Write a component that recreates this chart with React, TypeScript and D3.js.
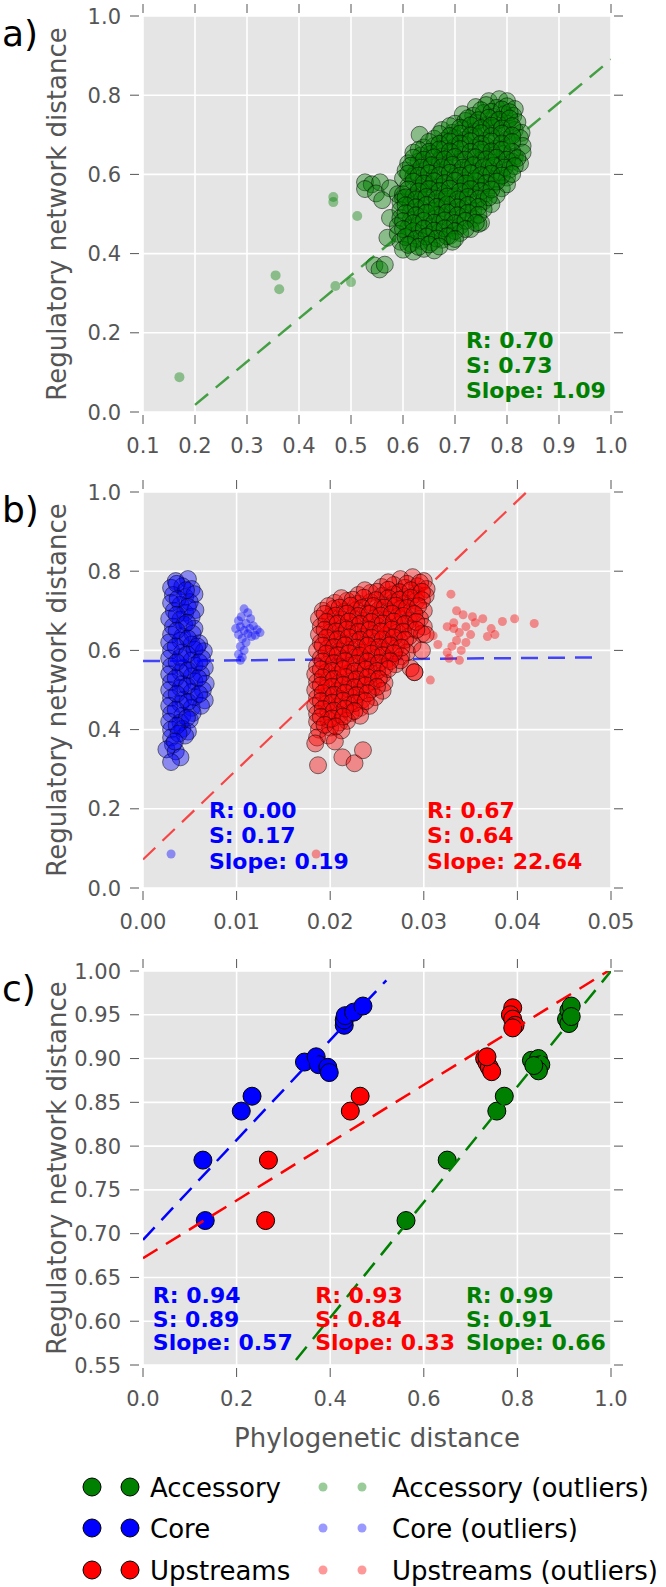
import React from "react";
import * as d3 from "d3";

const GREEN = "#008000";
const BLUE = "#0000ff";
const RED = "#ff0000";
const FONT = "DejaVu Sans";

// ---- panel a: accessory genes ----
const aCore: [number, number][] = [
  [0.765, 0.785], [0.785, 0.79], [0.8, 0.785],
  [0.74, 0.77], [0.76, 0.775], [0.78, 0.768], [0.8, 0.772], [0.815, 0.765],
  [0.715, 0.752], [0.735, 0.748], [0.755, 0.755], [0.775, 0.745], [0.795, 0.752], [0.812, 0.748],
  [0.7, 0.728], [0.72, 0.735], [0.74, 0.73], [0.76, 0.725], [0.78, 0.735], [0.8, 0.728], [0.82, 0.732],
  [0.675, 0.712], [0.695, 0.705], [0.715, 0.715], [0.735, 0.708], [0.755, 0.712], [0.775, 0.718], [0.795, 0.705], [0.815, 0.712], [0.828, 0.705],
  [0.632, 0.7],
  [0.66, 0.69], [0.68, 0.685], [0.7, 0.692], [0.72, 0.688], [0.74, 0.695], [0.76, 0.685], [0.78, 0.69], [0.8, 0.687], [0.825, 0.692],
  [0.64, 0.668], [0.66, 0.672], [0.68, 0.665], [0.7, 0.67], [0.72, 0.675], [0.74, 0.668], [0.76, 0.672], [0.78, 0.665], [0.8, 0.67], [0.83, 0.672],
  [0.62, 0.655], [0.635, 0.648], [0.655, 0.652], [0.675, 0.645], [0.695, 0.655], [0.715, 0.65], [0.735, 0.645], [0.755, 0.655], [0.775, 0.648], [0.795, 0.652], [0.815, 0.645], [0.83, 0.655],
  [0.61, 0.628], [0.63, 0.632], [0.65, 0.625], [0.67, 0.635], [0.69, 0.628], [0.71, 0.632], [0.73, 0.625], [0.75, 0.635], [0.77, 0.63], [0.79, 0.625], [0.81, 0.632], [0.825, 0.628],
  [0.605, 0.61], [0.625, 0.605], [0.645, 0.612], [0.665, 0.608], [0.685, 0.615], [0.705, 0.605], [0.725, 0.612], [0.745, 0.608], [0.765, 0.615], [0.785, 0.605], [0.805, 0.612],
  [0.6, 0.59], [0.62, 0.595], [0.64, 0.585], [0.66, 0.592], [0.68, 0.588], [0.7, 0.595], [0.72, 0.585], [0.74, 0.59], [0.76, 0.595], [0.78, 0.588], [0.8, 0.592],
  [0.527, 0.58], [0.54, 0.575], [0.556, 0.58], [0.527, 0.563], [0.548, 0.552], [0.575, 0.565], [0.59, 0.55], [0.56, 0.535], [0.575, 0.49], [0.57, 0.44], [0.6, 0.54],
  [0.61, 0.57], [0.63, 0.565], [0.65, 0.575], [0.67, 0.568], [0.69, 0.572], [0.71, 0.565], [0.73, 0.575], [0.75, 0.568], [0.77, 0.572], [0.79, 0.565], [0.8, 0.575],
  [0.6, 0.55], [0.62, 0.545], [0.64, 0.555], [0.66, 0.548], [0.68, 0.552], [0.7, 0.545], [0.72, 0.555], [0.74, 0.548], [0.76, 0.552], [0.78, 0.548],
  [0.595, 0.53], [0.615, 0.525], [0.635, 0.535], [0.655, 0.528], [0.675, 0.532], [0.695, 0.525], [0.715, 0.535], [0.735, 0.528], [0.755, 0.532], [0.77, 0.525],
  [0.595, 0.51], [0.615, 0.505], [0.635, 0.512], [0.655, 0.508], [0.675, 0.515], [0.695, 0.505], [0.715, 0.512], [0.735, 0.508], [0.755, 0.512],
  [0.595, 0.49], [0.615, 0.485], [0.635, 0.492], [0.655, 0.488], [0.675, 0.495], [0.695, 0.485], [0.715, 0.492], [0.735, 0.488], [0.75, 0.478],
  [0.59, 0.47], [0.61, 0.465], [0.63, 0.472], [0.65, 0.468], [0.67, 0.475], [0.69, 0.465], [0.71, 0.47], [0.73, 0.462], [0.745, 0.475],
  [0.59, 0.45], [0.61, 0.445], [0.63, 0.452], [0.65, 0.448], [0.67, 0.455], [0.69, 0.445], [0.71, 0.452],
  [0.595, 0.43], [0.615, 0.425], [0.635, 0.432], [0.655, 0.428], [0.675, 0.435], [0.695, 0.43],
  [0.6, 0.41], [0.62, 0.405], [0.64, 0.412], [0.66, 0.408],
  [0.545, 0.37], [0.555, 0.36], [0.565, 0.372],
];
// second pass of points filling the dense middle of the cloud
const aCoreDense: [number, number][] = [
  [0.75, 0.762], [0.77, 0.758], [0.79, 0.764], [0.805, 0.757],
  [0.725, 0.742], [0.745, 0.737], [0.765, 0.743], [0.785, 0.738], [0.805, 0.741],
  [0.69, 0.722], [0.71, 0.718], [0.73, 0.724], [0.75, 0.717], [0.77, 0.723], [0.79, 0.716], [0.81, 0.722],
  [0.67, 0.702], [0.69, 0.697], [0.71, 0.703], [0.73, 0.698], [0.75, 0.704], [0.77, 0.697], [0.79, 0.703], [0.81, 0.698],
  [0.65, 0.682], [0.67, 0.677], [0.69, 0.683], [0.71, 0.678], [0.73, 0.684], [0.75, 0.677], [0.77, 0.683], [0.79, 0.678], [0.81, 0.682],
  [0.63, 0.662], [0.65, 0.657], [0.67, 0.663], [0.69, 0.658], [0.71, 0.664], [0.73, 0.657], [0.75, 0.663], [0.77, 0.658], [0.79, 0.662], [0.81, 0.657],
  [0.62, 0.642], [0.64, 0.637], [0.66, 0.643], [0.68, 0.638], [0.7, 0.644], [0.72, 0.637], [0.74, 0.643], [0.76, 0.638], [0.78, 0.642], [0.8, 0.637], [0.82, 0.641],
  [0.615, 0.622], [0.635, 0.617], [0.655, 0.623], [0.675, 0.618], [0.695, 0.624], [0.715, 0.617], [0.735, 0.623], [0.755, 0.618], [0.775, 0.622], [0.795, 0.617], [0.815, 0.621],
  [0.61, 0.602], [0.63, 0.597], [0.65, 0.603], [0.67, 0.598], [0.69, 0.604], [0.71, 0.597], [0.73, 0.603], [0.75, 0.598], [0.77, 0.602], [0.79, 0.597], [0.81, 0.601],
  [0.62, 0.582], [0.64, 0.577], [0.66, 0.583], [0.68, 0.578], [0.7, 0.584], [0.72, 0.577], [0.74, 0.583], [0.76, 0.578], [0.78, 0.582],
  [0.61, 0.562], [0.63, 0.557], [0.65, 0.563], [0.67, 0.558], [0.69, 0.564], [0.71, 0.557], [0.73, 0.563], [0.75, 0.558], [0.77, 0.562],
  [0.605, 0.542], [0.625, 0.537], [0.645, 0.543], [0.665, 0.538], [0.685, 0.544], [0.705, 0.537], [0.725, 0.543], [0.745, 0.538], [0.765, 0.542],
  [0.605, 0.522], [0.625, 0.517], [0.645, 0.523], [0.665, 0.518], [0.685, 0.524], [0.705, 0.517], [0.725, 0.523], [0.745, 0.518],
  [0.605, 0.502], [0.625, 0.497], [0.645, 0.503], [0.665, 0.498], [0.685, 0.504], [0.705, 0.497], [0.725, 0.503], [0.745, 0.498],
  [0.6, 0.482], [0.62, 0.477], [0.64, 0.483], [0.66, 0.478], [0.68, 0.484], [0.7, 0.477], [0.72, 0.483], [0.74, 0.478],
  [0.6, 0.462], [0.62, 0.457], [0.64, 0.463], [0.66, 0.458], [0.68, 0.464], [0.7, 0.457], [0.72, 0.462],
  [0.605, 0.442], [0.625, 0.437], [0.645, 0.443], [0.665, 0.438], [0.685, 0.444], [0.7, 0.437],
  [0.61, 0.422], [0.63, 0.417], [0.65, 0.423], [0.67, 0.418],
];
const aOutliers: [number, number][] = [
  [0.17, 0.088], [0.355, 0.345], [0.362, 0.31], [0.466, 0.543], [0.466, 0.53],
  [0.47, 0.318], [0.5, 0.328], [0.512, 0.495],
];
const aStats = ["R: 0.70", "S: 0.73", "Slope: 1.09"];

// ---- panel b: core vs upstream ----
const bCore: [number, number][] = [
  [0.0035, 0.775], [0.0048, 0.78],
  [0.003, 0.758], [0.0042, 0.762], [0.0052, 0.755],
  [0.0032, 0.74], [0.0045, 0.735], [0.0055, 0.742],
  [0.003, 0.72], [0.004, 0.715], [0.005, 0.722],
  [0.0033, 0.7], [0.0045, 0.695], [0.0056, 0.702],
  [0.0028, 0.68], [0.004, 0.678], [0.0052, 0.685],
  [0.0032, 0.66], [0.0044, 0.665], [0.0055, 0.655],
  [0.003, 0.64], [0.0042, 0.635], [0.0053, 0.642],
  [0.0028, 0.62], [0.004, 0.625], [0.0052, 0.615], [0.006, 0.618],
  [0.003, 0.6], [0.0042, 0.595], [0.0055, 0.602], [0.0065, 0.598],
  [0.0028, 0.58], [0.004, 0.582], [0.0052, 0.575], [0.0063, 0.58],
  [0.003, 0.56], [0.0043, 0.555], [0.0055, 0.562], [0.0066, 0.556],
  [0.0028, 0.54], [0.004, 0.545], [0.0052, 0.535], [0.0062, 0.54],
  [0.003, 0.52], [0.0042, 0.515], [0.0055, 0.522], [0.0067, 0.516],
  [0.0028, 0.5], [0.004, 0.505], [0.0052, 0.495], [0.0064, 0.5],
  [0.003, 0.48], [0.0043, 0.475], [0.0055, 0.482], [0.0066, 0.474],
  [0.0028, 0.46], [0.004, 0.465], [0.0052, 0.455], [0.0062, 0.46],
  [0.003, 0.44], [0.0042, 0.435], [0.0053, 0.442],
  [0.0028, 0.42], [0.004, 0.418], [0.005, 0.425],
  [0.003, 0.4], [0.0042, 0.402], [0.0048, 0.395],
  [0.003, 0.38], [0.0045, 0.385],
  [0.0032, 0.362], [0.0025, 0.35], [0.0035, 0.345], [0.004, 0.33], [0.003, 0.318],
];
const bCoreDense: [number, number][] = [
  [0.0036, 0.768], [0.0046, 0.752], [0.0037, 0.73], [0.0048, 0.71], [0.0036, 0.69],
  [0.0047, 0.67], [0.0036, 0.65], [0.0048, 0.63], [0.0035, 0.61], [0.0047, 0.59],
  [0.0058, 0.61], [0.0036, 0.57], [0.0048, 0.55], [0.006, 0.57], [0.0035, 0.53],
  [0.0047, 0.51], [0.0059, 0.53], [0.0036, 0.49], [0.0048, 0.47], [0.006, 0.49],
  [0.0035, 0.45], [0.0047, 0.43], [0.0036, 0.41], [0.0038, 0.39], [0.0034, 0.37],
];
const bCoreOutliers: [number, number][] = [
  [0.0108, 0.705], [0.0112, 0.695], [0.0105, 0.685], [0.0115, 0.68], [0.0102, 0.675],
  [0.011, 0.668], [0.0118, 0.662], [0.0104, 0.66], [0.0122, 0.652], [0.0108, 0.65],
  [0.0112, 0.642], [0.0125, 0.645], [0.0102, 0.64], [0.0116, 0.635], [0.0106, 0.63],
  [0.011, 0.62], [0.0104, 0.61], [0.0108, 0.6], [0.0102, 0.59], [0.0106, 0.582],
  [0.0104, 0.575], [0.012, 0.638], [0.0114, 0.655], [0.0099, 0.655], [0.003, 0.086],
];
const bUp: [number, number][] = [
  [0.0275, 0.78], [0.0288, 0.785], [0.03, 0.775],
  [0.0255, 0.76], [0.0268, 0.765], [0.028, 0.758], [0.0293, 0.762], [0.0303, 0.755],
  [0.023, 0.74], [0.0243, 0.745], [0.0256, 0.738], [0.0268, 0.742], [0.028, 0.735], [0.0292, 0.742], [0.0302, 0.738],
  [0.0205, 0.72], [0.0218, 0.725], [0.023, 0.718], [0.0243, 0.722], [0.0256, 0.715], [0.0268, 0.722], [0.028, 0.718], [0.0292, 0.725],
  [0.0192, 0.7], [0.0204, 0.705], [0.0216, 0.698], [0.0228, 0.702], [0.024, 0.695], [0.0252, 0.702], [0.0264, 0.698], [0.0276, 0.705], [0.0288, 0.695], [0.03, 0.7],
  [0.0188, 0.68], [0.02, 0.685], [0.0212, 0.678], [0.0224, 0.682], [0.0236, 0.675], [0.0248, 0.682], [0.026, 0.678], [0.0272, 0.685], [0.0284, 0.675], [0.0296, 0.68],
  [0.019, 0.66], [0.0202, 0.665], [0.0214, 0.658], [0.0226, 0.662], [0.0238, 0.655], [0.025, 0.662], [0.0262, 0.658], [0.0274, 0.665], [0.0286, 0.655], [0.03, 0.66],
  [0.0188, 0.64], [0.02, 0.645], [0.0212, 0.638], [0.0224, 0.642], [0.0236, 0.635], [0.0248, 0.642], [0.026, 0.638], [0.0272, 0.645], [0.0284, 0.635], [0.0298, 0.642],
  [0.019, 0.62], [0.0202, 0.625], [0.0214, 0.618], [0.0226, 0.622], [0.0238, 0.615], [0.025, 0.622], [0.0262, 0.618], [0.0274, 0.625], [0.0288, 0.615],
  [0.0186, 0.6], [0.0198, 0.605], [0.021, 0.598], [0.0222, 0.602], [0.0234, 0.595], [0.0246, 0.602], [0.0258, 0.598], [0.027, 0.605], [0.0282, 0.595],
  [0.019, 0.58], [0.0202, 0.585], [0.0214, 0.578], [0.0226, 0.582], [0.0238, 0.575], [0.025, 0.582], [0.0262, 0.578], [0.0276, 0.585],
  [0.0186, 0.56], [0.0198, 0.565], [0.021, 0.558], [0.0222, 0.562], [0.0234, 0.555], [0.0246, 0.562], [0.0258, 0.558], [0.027, 0.565],
  [0.0184, 0.54], [0.0196, 0.545], [0.0208, 0.538], [0.022, 0.542], [0.0232, 0.535], [0.0244, 0.542], [0.0256, 0.538], [0.029, 0.545],
  [0.0186, 0.52], [0.0198, 0.525], [0.021, 0.518], [0.0222, 0.522], [0.0234, 0.515], [0.0246, 0.522], [0.0258, 0.518],
  [0.0184, 0.5], [0.0196, 0.505], [0.0208, 0.498], [0.022, 0.502], [0.0232, 0.495], [0.0244, 0.502], [0.0256, 0.498],
  [0.0186, 0.48], [0.0198, 0.485], [0.021, 0.478], [0.0222, 0.482], [0.0234, 0.475], [0.0248, 0.482],
  [0.0184, 0.46], [0.0196, 0.465], [0.0208, 0.458], [0.022, 0.462], [0.0232, 0.455], [0.0242, 0.46],
  [0.0186, 0.44], [0.0198, 0.445], [0.021, 0.438], [0.0222, 0.442], [0.0232, 0.435],
  [0.0186, 0.42], [0.0198, 0.425], [0.021, 0.418], [0.0218, 0.422],
  [0.0188, 0.4], [0.02, 0.405], [0.0212, 0.398],
  [0.0186, 0.38], [0.0198, 0.385], [0.0184, 0.365],
  [0.0187, 0.31], [0.0213, 0.33], [0.0226, 0.315], [0.0235, 0.348], [0.0205, 0.37],
  [0.0286, 0.555], [0.029, 0.545], [0.0302, 0.64], [0.0298, 0.6], [0.0275, 0.575],
];
const bUpDense: [number, number][] = [
  [0.0262, 0.772], [0.0282, 0.768], [0.0296, 0.771],
  [0.0237, 0.752], [0.025, 0.748], [0.0262, 0.753], [0.0274, 0.747], [0.0286, 0.752], [0.0298, 0.748],
  [0.0212, 0.732], [0.0224, 0.728], [0.0236, 0.733], [0.0249, 0.727], [0.0262, 0.732], [0.0274, 0.728], [0.0286, 0.733], [0.0298, 0.727],
  [0.0198, 0.712], [0.021, 0.708], [0.0222, 0.713], [0.0234, 0.707], [0.0246, 0.712], [0.0258, 0.708], [0.027, 0.713], [0.0282, 0.707], [0.0294, 0.712],
  [0.0194, 0.692], [0.0206, 0.688], [0.0218, 0.693], [0.023, 0.687], [0.0242, 0.692], [0.0254, 0.688], [0.0266, 0.693], [0.0278, 0.687], [0.029, 0.692],
  [0.0196, 0.672], [0.0208, 0.668], [0.022, 0.673], [0.0232, 0.667], [0.0244, 0.672], [0.0256, 0.668], [0.0268, 0.673], [0.028, 0.667], [0.0292, 0.672],
  [0.0194, 0.652], [0.0206, 0.648], [0.0218, 0.653], [0.023, 0.647], [0.0242, 0.652], [0.0254, 0.648], [0.0266, 0.653], [0.0278, 0.647], [0.0292, 0.652],
  [0.0196, 0.632], [0.0208, 0.628], [0.022, 0.633], [0.0232, 0.627], [0.0244, 0.632], [0.0256, 0.628], [0.0268, 0.633], [0.028, 0.627],
  [0.0192, 0.612], [0.0204, 0.608], [0.0216, 0.613], [0.0228, 0.607], [0.024, 0.612], [0.0252, 0.608], [0.0264, 0.613], [0.0276, 0.607],
  [0.0196, 0.592], [0.0208, 0.588], [0.022, 0.593], [0.0232, 0.587], [0.0244, 0.592], [0.0256, 0.588], [0.0268, 0.593],
  [0.0192, 0.572], [0.0204, 0.568], [0.0216, 0.573], [0.0228, 0.567], [0.024, 0.572], [0.0252, 0.568], [0.0264, 0.573],
  [0.019, 0.552], [0.0202, 0.548], [0.0214, 0.553], [0.0226, 0.547], [0.0238, 0.552], [0.025, 0.548], [0.0262, 0.553],
  [0.0192, 0.532], [0.0204, 0.528], [0.0216, 0.533], [0.0228, 0.527], [0.024, 0.532], [0.0252, 0.528],
  [0.019, 0.512], [0.0202, 0.508], [0.0214, 0.513], [0.0226, 0.507], [0.0238, 0.512], [0.025, 0.508],
  [0.0192, 0.492], [0.0204, 0.488], [0.0216, 0.493], [0.0228, 0.487], [0.024, 0.492],
  [0.019, 0.472], [0.0202, 0.468], [0.0214, 0.473], [0.0226, 0.467], [0.0238, 0.472],
  [0.0192, 0.452], [0.0204, 0.448], [0.0216, 0.453], [0.0226, 0.447],
  [0.019, 0.432], [0.0202, 0.428], [0.0214, 0.433],
  [0.0194, 0.412], [0.0206, 0.408],
];
const bUpOutliers: [number, number][] = [
  [0.0329, 0.742], [0.0342, 0.69], [0.0335, 0.7], [0.0363, 0.68], [0.0384, 0.673],
  [0.0397, 0.68], [0.0418, 0.668], [0.031, 0.637], [0.0315, 0.615], [0.0327, 0.58],
  [0.0307, 0.525], [0.0325, 0.66], [0.0332, 0.655], [0.0338, 0.645], [0.0345, 0.66],
  [0.035, 0.64], [0.0335, 0.625], [0.033, 0.61], [0.034, 0.6], [0.0345, 0.62],
  [0.0355, 0.67], [0.0372, 0.655], [0.0376, 0.64], [0.0368, 0.635], [0.0325, 0.595],
  [0.0338, 0.575], [0.0332, 0.67], [0.0352, 0.685], [0.0185, 0.086],
];
const bCoreStats = ["R: 0.00", "S: 0.17", "Slope: 0.19"];
const bUpStats = ["R: 0.67", "S: 0.64", "Slope: 22.64"];

// ---- panel c: summary per group ----
const cCore: [number, number][] = [
  [0.128, 0.784], [0.133, 0.715], [0.21, 0.84], [0.233, 0.857],
  [0.345, 0.896], [0.37, 0.902], [0.375, 0.893], [0.395, 0.89], [0.398, 0.884],
  [0.43, 0.938], [0.43, 0.944], [0.432, 0.949], [0.45, 0.953], [0.47, 0.96],
];
const cUp: [number, number][] = [
  [0.268, 0.784], [0.262, 0.715], [0.443, 0.84], [0.464, 0.857],
  [0.73, 0.9], [0.735, 0.895], [0.74, 0.89], [0.745, 0.885], [0.735, 0.902],
  [0.79, 0.958], [0.785, 0.95], [0.79, 0.945], [0.795, 0.938], [0.79, 0.935],
];
const cAcc: [number, number][] = [
  [0.562, 0.715], [0.65, 0.784], [0.756, 0.84], [0.772, 0.857],
  [0.83, 0.898], [0.845, 0.9], [0.85, 0.893], [0.845, 0.886], [0.835, 0.892],
  [0.905, 0.945], [0.91, 0.955], [0.915, 0.96], [0.91, 0.94], [0.915, 0.948],
];
const cCoreStats = ["R: 0.94", "S: 0.89", "Slope: 0.57"];
const cUpStats = ["R: 0.93", "S: 0.84", "Slope: 0.33"];
const cAccStats = ["R: 0.99", "S: 0.91", "Slope: 0.66"];

// fits: [slope, intercept, xFrom, xTo]
const aFit = [1.09, -0.2, 0.2, 1.0];
const bCoreFit = [0.19, 0.573, 0.0, 0.049];
const bUpFit = [22.64, 0.072, 0.0, 0.05];
const cCoreFit = [0.57, 0.693, 0.0, 0.52];
const cUpFit = [0.33, 0.672, 0.0, 1.0];
const cAccFit = [0.66, 0.34, 0.0, 1.0];

const legendLabels = ["Accessory", "Core", "Upstreams"];
const legendColors = [GREEN, BLUE, RED];

const LEFT = 143;
const RIGHT = 611;

type Series = {
  pts: [number, number][];
  color: string;
  r: number;
  alpha: number;
  edge: boolean;
};
type Fit = { f: number[]; color: string; alpha: number; width: number };
type Stat = { lines: string[]; color: string; fx: number; fy: number };

function Panel(props: {
  id: string;
  label: string;
  top: number;
  bottom: number;
  xDomain: [number, number];
  yDomain: [number, number];
  xTicks: number[];
  yTicks: number[];
  xFmt: string;
  yFmt: string;
  layers: ({ kind: "s"; s: Series } | { kind: "f"; f: Fit })[];
  stats: Stat[];
  lineGap: number;
}) {
  const { top, bottom } = props;
  const x = d3.scaleLinear().domain(props.xDomain).range([LEFT, RIGHT]);
  const y = d3.scaleLinear().domain(props.yDomain).range([bottom, top]);
  const xf = d3.format(props.xFmt);
  const yf = d3.format(props.yFmt);
  return (
    <g>
      <defs>
        <clipPath id={"clip-" + props.id}>
          <rect x={LEFT} y={top} width={RIGHT - LEFT} height={bottom - top} />
        </clipPath>
      </defs>
      <rect x={LEFT} y={top} width={RIGHT - LEFT} height={bottom - top} fill="#e5e5e5" />
      {props.xTicks.map((t, i) => (
        <line key={"gx" + i} x1={x(t)} x2={x(t)} y1={top} y2={bottom} stroke="#fff" strokeWidth={1.6} />
      ))}
      {props.yTicks.map((t, i) => (
        <line key={"gy" + i} x1={LEFT} x2={RIGHT} y1={y(t)} y2={y(t)} stroke="#fff" strokeWidth={1.6} />
      ))}
      <g clipPath={`url(#clip-${props.id})`}>
        {props.layers.map((layer, li) => {
          if (layer.kind === "s") {
            const s = layer.s;
            return (
              <g key={li}>
                {s.pts.map((p, i) => (
                  <circle
                    key={i}
                    cx={x(p[0])}
                    cy={y(p[1])}
                    r={s.r}
                    fill={s.color}
                    fillOpacity={s.alpha}
                    stroke={s.edge ? "#000" : "none"}
                    strokeOpacity={s.alpha < 1 ? 0.5 : 1}
                    strokeWidth={1}
                  />
                ))}
              </g>
            );
          }
          const [m, b, x0, x1] = layer.f.f;
          const path = d3
            .line<number>()
            .x((v) => x(v))
            .y((v) => y(m * v + b))([x0, x1]);
          return (
            <path
              key={li}
              d={path || ""}
              fill="none"
              stroke={layer.f.color}
              strokeOpacity={layer.f.alpha}
              strokeWidth={layer.f.width}
              strokeDasharray="17 10"
            />
          );
        })}
      </g>
      {props.xTicks.map((t, i) => (
        <g key={"tx" + i} stroke="#555" strokeWidth={1}>
          <line x1={x(t)} x2={x(t)} y1={bottom + 3} y2={bottom + 12} />
          <line x1={x(t)} x2={x(t)} y1={top - 3} y2={top - 12} />
        </g>
      ))}
      {props.yTicks.map((t, i) => (
        <g key={"ty" + i} stroke="#555" strokeWidth={1}>
          <line x1={LEFT - 4} x2={LEFT - 13} y1={y(t)} y2={y(t)} />
          <line x1={RIGHT + 3} x2={RIGHT + 12} y1={y(t)} y2={y(t)} />
        </g>
      ))}
      {props.xTicks.map((t, i) => (
        <text key={"lx" + i} x={x(t)} y={bottom + 41} textAnchor="middle" fontSize={21} fill="#555" fontFamily={FONT}>
          {xf(t)}
        </text>
      ))}
      {props.yTicks.map((t, i) => (
        <text key={"ly" + i} x={121} y={y(t) + 7.5} textAnchor="end" fontSize={21} fill="#555" fontFamily={FONT}>
          {yf(t)}
        </text>
      ))}
      <text
        transform={`translate(66,${(top + bottom) / 2}) rotate(-90)`}
        textAnchor="middle"
        fontSize={26}
        fill="#555"
        fontFamily={FONT}
      >
        Regulatory network distance
      </text>
      <text x={2} y={top + 30} fontSize={36} fill="#000" fontFamily={FONT}>
        {props.label}
      </text>
      {props.stats.map((st, si) => (
        <text key={"st" + si} fontSize={22} fontWeight="bold" fill={st.color} fontFamily={FONT}>
          {st.lines.map((ln, k) => (
            <tspan key={k} x={LEFT + st.fx * (RIGHT - LEFT)} y={top + st.fy * (bottom - top) + k * props.lineGap}>
              {ln}
            </tspan>
          ))}
        </text>
      ))}
    </g>
  );
}

export default function App() {
  const W = 666;
  const H = 1587;
  const legendRows = [1487, 1528, 1570];
  return (
    <svg
      width={W}
      height={H}
      viewBox={`0 0 ${W} ${H}`}
      style={{ position: "absolute", left: 0, top: 0, background: "#fff" }}
    >
      <Panel
        id="a"
        label="a)"
        top={16}
        bottom={412}
        xDomain={[0.1, 1.0]}
        yDomain={[0, 1]}
        xTicks={d3.ticks(0.1, 1.0, 9)}
        yTicks={d3.ticks(0, 1, 5)}
        xFmt=".1f"
        yFmt=".1f"
        lineGap={25}
        layers={[
          { kind: "s", s: { pts: aCore.concat(aCoreDense), color: GREEN, r: 8.5, alpha: 0.4, edge: true } },
          { kind: "s", s: { pts: aOutliers, color: GREEN, r: 5, alpha: 0.4, edge: false } },
          { kind: "f", f: { f: aFit, color: GREEN, alpha: 0.7, width: 2.5 } },
        ]}
        stats={[{ lines: aStats, color: GREEN, fx: 0.69, fy: 0.838 }]}
      />
      <Panel
        id="b"
        label="b)"
        top={492}
        bottom={888}
        xDomain={[0, 0.05]}
        yDomain={[0, 1]}
        xTicks={d3.ticks(0, 0.05, 5)}
        yTicks={d3.ticks(0, 1, 5)}
        xFmt=".2f"
        yFmt=".1f"
        lineGap={25.5}
        layers={[
          { kind: "s", s: { pts: bCore.concat(bCoreDense), color: BLUE, r: 8.5, alpha: 0.4, edge: true } },
          { kind: "s", s: { pts: bCoreOutliers, color: BLUE, r: 4.5, alpha: 0.4, edge: false } },
          { kind: "f", f: { f: bCoreFit, color: BLUE, alpha: 0.7, width: 2.5 } },
          { kind: "s", s: { pts: bUp.concat(bUpDense), color: RED, r: 8.5, alpha: 0.4, edge: true } },
          { kind: "s", s: { pts: bUpOutliers, color: RED, r: 4.5, alpha: 0.4, edge: false } },
          { kind: "f", f: { f: bUpFit, color: RED, alpha: 0.7, width: 2.2 } },
        ]}
        stats={[
          { lines: bCoreStats, color: BLUE, fx: 0.141, fy: 0.823 },
          { lines: bUpStats, color: RED, fx: 0.607, fy: 0.823 },
        ]}
      />
      <Panel
        id="c"
        label="c)"
        top={971}
        bottom={1365}
        xDomain={[0, 1]}
        yDomain={[0.55, 1.0]}
        xTicks={d3.ticks(0, 1, 5)}
        yTicks={d3.ticks(0.55, 1.0, 9)}
        xFmt=".1f"
        yFmt=".2f"
        lineGap={23.5}
        layers={[
          { kind: "s", s: { pts: cCore, color: BLUE, r: 9, alpha: 1, edge: true } },
          { kind: "f", f: { f: cCoreFit, color: BLUE, alpha: 1, width: 2.5 } },
          { kind: "s", s: { pts: cUp, color: RED, r: 9, alpha: 1, edge: true } },
          { kind: "f", f: { f: cUpFit, color: RED, alpha: 1, width: 2.5 } },
          { kind: "s", s: { pts: cAcc, color: GREEN, r: 9, alpha: 1, edge: true } },
          { kind: "f", f: { f: cAccFit, color: GREEN, alpha: 1, width: 2.5 } },
        ]}
        stats={[
          { lines: cCoreStats, color: BLUE, fx: 0.021, fy: 0.843 },
          { lines: cUpStats, color: RED, fx: 0.368, fy: 0.843 },
          { lines: cAccStats, color: GREEN, fx: 0.69, fy: 0.843 },
        ]}
      />
      <text x={(LEFT + RIGHT) / 2} y={1447} textAnchor="middle" fontSize={26} fill="#555" fontFamily={FONT}>
        Phylogenetic distance
      </text>
      {legendLabels.map((lab, i) => (
        <g key={lab}>
          <circle cx={92} cy={legendRows[i]} r={9} fill={legendColors[i]} stroke="#000" strokeWidth={1} />
          <circle cx={130} cy={legendRows[i]} r={9} fill={legendColors[i]} stroke="#000" strokeWidth={1} />
          <text x={150} y={legendRows[i] + 9.5} fontSize={26} fill="#000" fontFamily={FONT}>
            {lab}
          </text>
          <circle cx={323} cy={legendRows[i]} r={4.5} fill={legendColors[i]} fillOpacity={0.4} />
          <circle cx={362} cy={legendRows[i]} r={4.5} fill={legendColors[i]} fillOpacity={0.4} />
          <text x={392} y={legendRows[i] + 9.5} fontSize={26} fill="#000" fontFamily={FONT}>
            {lab + " (outliers)"}
          </text>
        </g>
      ))}
    </svg>
  );
}
